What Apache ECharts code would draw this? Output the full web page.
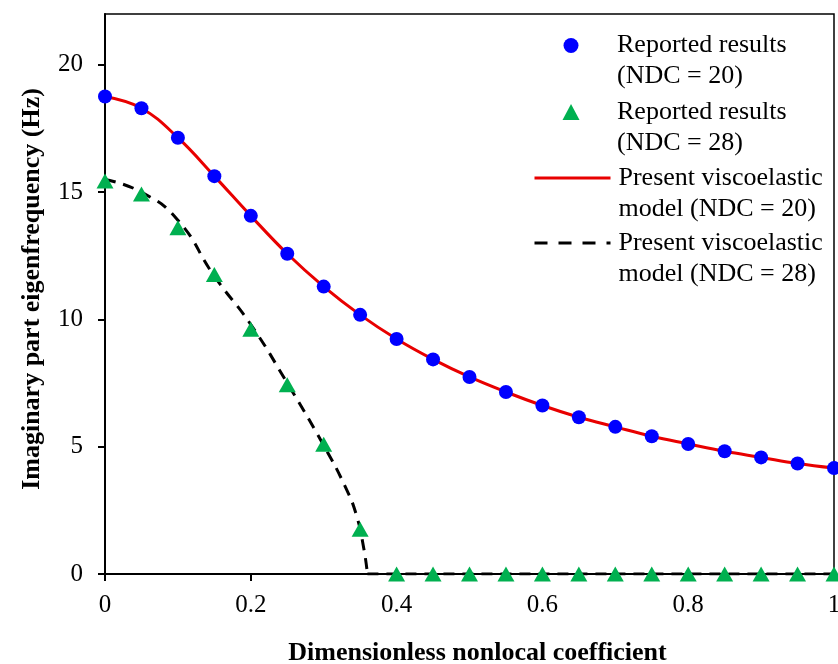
<!DOCTYPE html>
<html>
<head>
<meta charset="utf-8">
<script src="https://cdn.jsdelivr.net/npm/echarts@6/dist/echarts.min.js"></script>
<style>html,body{margin:0;padding:0;background:#fff}#c{width:838px;height:664px}</style>
</head>
<body>
<div id="c"></div>
<script>
// x positions (dimensionless nonlocal coefficient)
const xValues = [0, 0.05, 0.1, 0.15, 0.2, 0.25, 0.3, 0.35, 0.4, 0.45, 0.5, 0.55, 0.6, 0.65, 0.7, 0.75, 0.8, 0.85, 0.9, 0.95, 1];
// Reported results (NDC = 20)
const reported20 = [18.76, 18.3, 17.14, 15.63, 14.07, 12.58, 11.29, 10.18, 9.23, 8.43, 7.74, 7.15, 6.62, 6.16, 5.78, 5.41, 5.11, 4.82, 4.58, 4.34, 4.16];
// Reported results (NDC = 28)
const reported28 = [15.44, 14.93, 13.6, 11.77, 9.62, 7.43, 5.1, 1.76, 0, 0, 0, 0, 0, 0, 0, 0, 0, 0, 0, 0, 0];
// Present viscoelastic model (NDC = 20)
const model20X = xValues;
const model20 = reported20;
// Present viscoelastic model (NDC = 28): decaying branch and zero branch
const model28X = [0, 0.05, 0.1, 0.15, 0.2, 0.25, 0.3, 0.33, 0.345, 0.355, 0.36];
const model28 = [15.5, 15.0, 13.9, 11.7, 9.8, 7.5, 5.05, 3.4, 2.3, 1.0, 0];
const model28ZeroX = [0.36, 1];
const model28Zero = [0, 0];
// tick labels
const xTicks = [0, 0.2, 0.4, 0.6, 0.8, 1];
const yTicks = [0, 5, 10, 15, 20];

const legendLabels = {
  r20: '\nReported results\n(NDC = 20)',
  r28: '\nReported results\n(NDC = 28)',
  m20: '\nPresent viscoelastic\nmodel (NDC = 20)',
  m28: '\nPresent viscoelastic\nmodel (NDC = 28)'
};
const zip = (a, b) => a.map((v, i) => [v, b[i]]);
const FONT = '"Liberation Serif", "Times New Roman", serif';

function legendFor(name, top, iconW, iconH, extra) {
  const left = 571 - iconW / 2;
  return {
    orient: 'vertical', left: left, top: top, padding: 0,
    itemWidth: iconW, itemHeight: iconH,
    textStyle: {fontFamily: FONT, fontSize: 26, lineHeight: 31, color: '#000',
                padding: [0, 0, 0, 617 - (left + iconW + 5)]},
    formatter: n => legendLabels[n],
    data: [Object.assign({name: name}, extra || {})]
  };
}

const chart = echarts.init(document.getElementById('c'), null, {renderer: 'canvas'});
chart.setOption({
  animation: false,
  backgroundColor: '#fff',
  grid: {left: 105, right: 4, top: 14, bottom: 90, show: true, borderColor: '#000', borderWidth: 1.5,
         outerBoundsMode: 'none', containLabel: false},
  legend: [
    legendFor('r20', -1, 15, 15),
    legendFor('r28', 65.5, 17, 16),
    legendFor('m20', 131.5, 76, 15, {itemStyle: {opacity: 0}, lineStyle: {width: 3, color: '#E80000'}}),
    legendFor('m28', 196.5, 76, 15, {itemStyle: {opacity: 0}, lineStyle: {width: 3, color: '#000', type: [13, 11]}})
  ],
  xAxis: {
    type: 'value', min: 0, max: 1, interval: 0.2,
    name: 'Dimensionless nonlocal coefficient', nameLocation: 'middle', nameGap: 66,
    nameTextStyle: {fontFamily: FONT, fontWeight: 'bold', fontSize: 26, color: '#000', padding: [0, 0, 0, 16]},
    axisLine: {onZero: false, lineStyle: {color: '#000', width: 2}},
    axisTick: {show: true, length: 7, lineStyle: {color: '#000', width: 2}, customValues: xTicks},
    axisLabel: {fontFamily: FONT, fontSize: 25, color: '#000', margin: 19, customValues: xTicks},
    splitLine: {show: false}
  },
  yAxis: {
    type: 'value', min: 0, max: 22, interval: 5,
    name: 'Imaginary part eigenfrequency (Hz)', nameLocation: 'middle', nameGap: 60,
    nameTextStyle: {fontFamily: FONT, fontWeight: 'bold', fontSize: 26, color: '#000', padding: [0, 0, 0, 10]},
    axisLine: {show: true, onZero: false, lineStyle: {color: '#000', width: 2}},
    axisTick: {show: true, length: 7, lineStyle: {color: '#000', width: 2}, customValues: yTicks},
    axisLabel: {fontFamily: FONT, fontSize: 25, color: '#000', margin: 22, customValues: yTicks},
    splitLine: {show: false}
  },
  series: [
    {name: 'm20', type: 'line', data: zip(model20X, model20), smooth: 0.4, symbol: 'none',
     itemStyle: {color: '#E80000'}, lineStyle: {color: '#E80000', width: 3}, z: 3},
    {name: 'm28', type: 'line', data: zip(model28X, model28), smooth: true, symbol: 'none',
     itemStyle: {color: '#000'}, lineStyle: {color: '#000', width: 3, type: [11, 8]}, z: 3},
    {name: 'm28', type: 'line', data: zip(model28ZeroX, model28Zero), smooth: false, symbol: 'none',
     itemStyle: {color: '#000'}, lineStyle: {color: '#000', width: 3, type: [11, 8]}, z: 3},
    {name: 'r20', type: 'scatter', data: zip(xValues, reported20), symbol: 'circle', symbolSize: 14,
     itemStyle: {color: '#0000FF', opacity: 1}, z: 5},
    {name: 'r28', type: 'scatter', data: zip(xValues, reported28), symbol: 'triangle', symbolSize: [17, 15],
     itemStyle: {color: '#00B050', opacity: 1}, z: 5}
  ]
});
</script>
</body>
</html>
